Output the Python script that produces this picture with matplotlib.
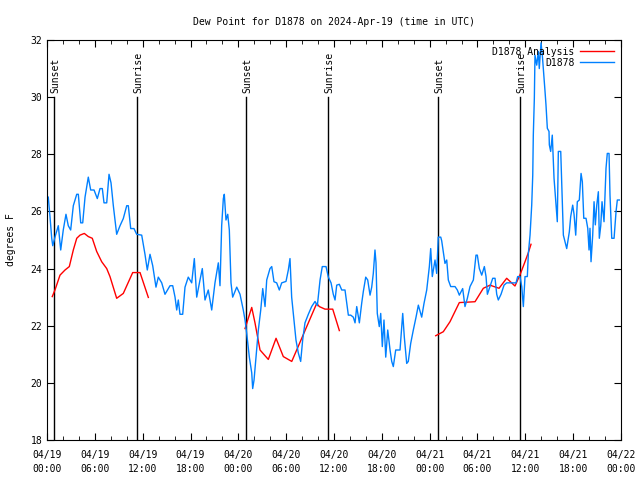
import numpy as np
import pandas as pd
from matplotlib import pyplot as plt
from matplotlib.ticker import MultipleLocator

plt.rcParams['font.family'] = ['DejaVu Sans Mono']

# hours since 2024-04-19 00:00 UTC
obs_hours = [0.16, 0.38, 0.59, 0.72, 1.0, 1.42, 1.72, 2.04, 2.38, 2.67, 2.97, 3.30, 3.73, 3.93,
             4.23, 4.48, 4.77, 5.18, 5.48, 5.90, 6.31, 6.65, 6.94, 7.15, 7.49, 7.78, 8.03, 8.32,
             8.74, 9.16, 9.57, 10.0, 10.2, 10.5, 10.91, 11.25, 11.88, 12.29, 12.58, 12.92, 13.26,
             13.67, 13.96, 14.39, 14.8, 15.43, 15.77, 16.06, 16.27, 16.47, 16.68, 17.02, 17.31,
             17.72, 18.15, 18.48, 18.78, 19.19, 19.48, 19.82, 20.23, 20.66, 21.07, 21.49, 21.70,
             21.91, 22.12, 22.24, 22.45, 22.67, 22.87, 23.08, 23.29, 23.80, 24.21, 24.62, 24.84,
             25.05, 25.38, 25.68, 25.80, 25.97, 26.22, 26.51, 26.81, 27.06, 27.35, 27.56, 27.97,
             28.19, 28.47, 28.81, 29.14, 29.44, 29.98, 30.27, 30.48, 30.69, 30.98, 31.23, 31.52,
             31.82, 32.07, 32.36, 32.78, 33.20, 33.62, 33.91, 34.25, 34.53, 35.0, 35.29, 35.63,
             35.91, 36.13, 36.34, 36.67, 36.97, 37.38, 37.80, 38.10, 38.42, 38.64, 38.85, 39.18,
             39.48, 39.68, 39.98, 40.23, 40.52, 40.73, 40.93, 41.14, 41.27, 41.43, 41.68, 41.86,
             42.06, 42.27, 42.49, 42.74, 43.03, 43.24, 43.44, 43.74, 44.28, 44.62, 44.82, 45.12,
             45.32, 45.62, 45.95, 46.29, 46.58, 47.0, 47.29, 47.63, 47.96, 48.13, 48.33, 48.67,
             48.88, 49.08, 49.39, 49.51, 49.92, 50.14, 50.34, 50.64, 51.18, 51.47, 51.72, 52.14,
             52.43, 52.72, 53.06, 53.48, 53.81, 53.98, 54.23, 54.53, 54.86, 55.07, 55.24, 55.57,
             55.91, 56.20, 56.41, 56.61, 56.95, 57.33, 57.66, 58.83, 59.04, 59.33, 59.55, 59.67,
             59.75, 59.96, 60.25, 60.38, 60.59, 60.80, 60.93, 61.0, 61.13, 61.21, 61.43, 61.63,
             61.75, 61.97, 62.13, 62.26, 62.47, 62.59, 62.76, 62.97, 63.01, 63.18, 63.38, 63.60,
             63.85, 64.01, 64.14, 64.44, 64.64, 64.77, 64.98, 65.19, 65.52, 65.69, 65.94, 66.11,
             66.32, 66.52, 66.77, 66.99, 67.15, 67.33, 67.61, 67.83, 67.99, 68.11, 68.24, 68.45,
             68.62, 68.78, 68.96, 69.16, 69.28, 69.46, 69.62, 69.87, 70.12, 70.28, 70.50, 70.62,
             70.84, 71.13, 71.38, 71.54, 71.79]
obs_dewpt = [26.5, 25.8, 25.07, 24.8, 25.1, 25.5, 24.65, 25.35, 25.9, 25.5, 25.35, 26.2, 26.6, 26.6,
             25.6, 25.6, 26.5, 27.2, 26.75, 26.75, 26.45, 26.8, 26.8, 26.3, 26.3, 27.3, 27.0, 26.2,
             25.2, 25.5, 25.75, 26.2, 26.2, 25.4, 25.4, 25.2, 25.17, 24.5, 23.95, 24.5, 24.1,
             23.35, 23.7, 23.5, 23.1, 23.4, 23.4, 23.0, 22.55, 22.9, 22.4, 22.4, 23.35,
             23.7, 23.5, 24.35, 23.0, 23.6, 24.0, 22.9, 23.25, 22.55, 23.5, 24.2, 23.4,
             25.5, 26.45, 26.6, 25.7, 25.9, 25.35, 23.5, 23.0, 23.35, 23.1, 22.55, 22.2,
             21.73, 20.9, 20.35, 19.8, 20.1, 20.9, 21.85, 22.55, 23.3, 22.67, 23.6, 24.0,
             24.07, 23.54, 23.5, 23.25, 23.5, 23.55, 23.95, 24.35, 23.0, 22.2, 21.5, 21.05,
             20.75, 21.5, 22.1, 22.4, 22.67, 22.85, 22.7, 23.6, 24.07, 24.07, 23.7, 23.5,
             23.1, 22.9, 23.42, 23.45, 23.25, 23.25, 22.37, 22.37, 22.3, 22.1, 22.67, 22.1,
             22.8, 23.2, 23.7, 23.6, 23.07, 23.35, 23.83, 24.65, 24.2, 22.43, 21.97, 22.43,
             21.27, 22.2, 20.9, 21.85, 21.15, 20.75, 20.57, 21.15, 21.15, 22.43, 21.6, 20.68,
             20.75, 21.38, 21.85, 22.3, 22.72, 22.3, 22.78, 23.25, 24.07, 24.7, 23.72, 24.3,
             23.83, 25.1, 25.1, 24.97, 24.18, 24.3, 23.6, 23.37, 23.37, 23.25, 23.07, 23.3,
             22.67, 22.95, 23.37, 23.6, 24.47, 24.47, 24.0, 23.77, 24.07, 23.72, 23.1, 23.37,
             23.66, 23.66, 23.1, 22.9, 23.1, 23.42, 23.5, 23.5, 23.72, 23.72, 23.37, 22.95,
             22.67, 23.72, 23.72, 24.53, 25.17, 26.22, 27.27, 28.67, 29.96, 31.47, 31.12, 31.6,
             31.0, 31.9, 31.47, 31.0, 30.2, 29.73, 28.91, 28.8, 28.33, 28.1, 28.67, 27.16,
             26.22, 25.64, 28.1, 28.1, 26.34, 25.17, 24.94, 24.7, 25.29, 25.82, 26.22, 25.9,
             25.17, 26.34, 26.4, 27.33, 27.04, 25.76, 25.76, 25.41, 24.65, 25.41, 24.24, 25.17,
             26.34, 25.53, 26.22, 26.69, 25.06, 25.5, 26.34, 25.64, 27.51, 28.03, 28.03, 26.57,
             25.06, 25.06, 26.0, 26.4, 26.4]

# analysis series, NaN marks the gaps
ana_hours = [0.66, 1.0, 1.63, 2.26, 2.80, 3.30, 3.73, 4.14, 4.68, 5.18, 5.68, 6.23, 6.86, 7.49,
             7.90, 8.74, 9.57, 10.75, 11.67, 12.71, np.nan,
             24.84, 25.68, 26.09, 26.72, 27.76, 28.73, 29.64, 30.70, 31.32, 32.58, 33.83, 34.16,
             34.87, 35.84, 36.67, np.nan,
             48.76, 49.71, 50.55, 51.72, 52.43, 53.69, 54.73, 55.57, 56.07, 56.70, 57.66, 58.70,
             59.33, 59.96, 60.38, 60.71]
ana_dewpt = [23.02, 23.25, 23.77, 23.95, 24.07, 24.65, 25.06, 25.17, 25.23, 25.12, 25.06, 24.6,
             24.24, 24.0, 23.72, 22.96, 23.13, 23.86, 23.86, 22.99, np.nan,
             21.9, 22.64, 22.1, 21.15, 20.82, 21.56, 20.92, 20.75, 21.15, 21.97, 22.78, 22.67,
             22.58, 22.58, 21.83, np.nan,
             21.65, 21.79, 22.14, 22.81, 22.82, 22.84, 23.31, 23.42, 23.37, 23.31, 23.66, 23.39,
             23.78, 24.24, 24.56, 24.85]

sun_hours = [0.88, 11.29, 24.96, 35.25, 49.05, 59.34]
sun_labels = ['Sunset', 'Sunrise', 'Sunset', 'Sunrise', 'Sunset', 'Sunrise']

start = pd.Timestamp('2024-04-19 00:00')
tick_hours = list(range(0, 73, 6))
tick_labels = [(start + pd.Timedelta(hours=h)).strftime('%m/%d\n%H:%M') for h in tick_hours]

fig = plt.figure(figsize=(6.4, 4.8), dpi=100)
ax = fig.add_axes([47 / 640, 40 / 480, 574 / 640, 400 / 480])

for h, lab in zip(sun_hours, sun_labels):
    ax.plot([h, h], [18, 30.0], color='black', lw=1.0)
    ax.text(h + 0.15, 30.15, lab, rotation=90, ha='center', va='bottom', fontsize=7)

ax.plot(ana_hours, ana_dewpt, color='#ff0000', lw=1.0, label='D1878 Analysis')
ax.plot(obs_hours, obs_dewpt, color='#0080ff', lw=1.0, label='D1878')

ax.set_xlim(0, 72)
ax.set_ylim(18, 32)
ax.set_xticks(tick_hours)
ax.set_xticklabels(tick_labels, fontsize=7, linespacing=1.5)
ax.xaxis.set_minor_locator(MultipleLocator(2))
ax.set_yticks(range(18, 33, 2))
ax.tick_params(axis='y', labelsize=7)
ax.tick_params(axis='x', pad=7)
ax.tick_params(which='both', direction='in', top=True, right=True)
ax.tick_params(which='major', length=5)
ax.tick_params(which='minor', length=3)
ax.set_ylabel('degrees F', fontsize=7, labelpad=10)
ax.set_title('Dew Point for D1878 on 2024-Apr-19 (time in UTC)', fontsize=7, pad=11)

ax.legend(loc='upper right', frameon=False, markerfirst=False, fontsize=7,
          handlelength=3.5, borderaxespad=0.3, labelspacing=0.1, handletextpad=0.6)

fig.savefig('out.png', dpi=100)
